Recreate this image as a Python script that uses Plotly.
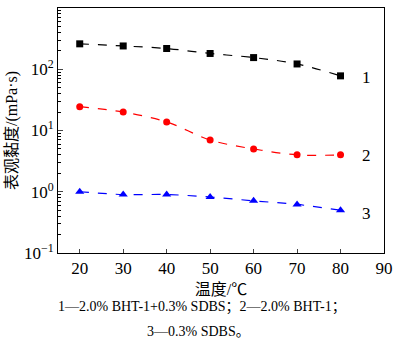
import plotly.graph_objects as go

temps = [20, 30, 40, 50, 60, 70, 80]
visc_1 = [260, 240, 218, 181, 155, 122, 78]
visc_2 = [24.5, 20, 13.8, 7.0, 5.0, 4.0, 4.0]
visc_3 = [1.0, 0.9, 0.9, 0.82, 0.71, 0.62, 0.5]
series_labels = ["1", "2", "3"]
ytick_vals = [0.1, 1, 10, 100, 1000]
ytick_text = ["10<sup>−1</sup>", "10<sup>0</sup>", "10<sup>1</sup>", "10<sup>2</sup>", "10<sup>3</sup>"]
xtick_vals = [20, 30, 40, 50, 60, 70, 80, 90]

FONT = "'Liberation Serif', 'Noto Sans CJK SC', serif"

fig = go.Figure()
series = [
    (visc_1, "black", "square", 7),
    (visc_2, "red", "circle", 7),
    (visc_3, "blue", "triangle-up", 8),
]
for vals, col, sym, sz in series:
    fig.add_trace(go.Scatter(
        x=temps, y=vals, mode="lines+markers",
        line=dict(color=col, dash="dash", width=1.2, shape="spline"),
        marker=dict(color=col, symbol=sym, size=sz),
        showlegend=False,
    ))

minor_vals = []
for e in [0.1, 1, 10, 100]:
    for k in range(2, 10):
        minor_vals.append(e * k)

fig.update_xaxes(
    range=[15, 90], tickvals=xtick_vals, ticks="inside", ticklen=4,
    showline=True, linecolor="black", linewidth=1, mirror=True,
    showgrid=False, zeroline=False,
    tickfont=dict(family=FONT, size=17, color="black"),
    title=dict(text="温度/℃", font=dict(family=FONT, size=16, color="black"), standoff=6),
)
fig.update_yaxes(
    type="log", range=[-1, 3], tickvals=ytick_vals, ticktext=ytick_text,
    ticks="inside", ticklen=5,
    minor=dict(tickvals=minor_vals, ticks="inside", ticklen=3, tickcolor="black"),
    showline=True, linecolor="black", linewidth=1, mirror=True,
    showgrid=False, zeroline=False,
    tickfont=dict(family=FONT, size=17, color="black"),
    title=dict(text="表观黏度/(mPa·s)", font=dict(family=FONT, size=16, color="black"), standoff=2),
)

label_pos = [(86, 1.86), (86, 0.593), (86, -0.35)]
for lab, (lx, ly) in zip(series_labels, label_pos):
    fig.add_annotation(x=lx, y=ly, xref="x", yref="y", text=lab, showarrow=False,
                       font=dict(family=FONT, size=17, color="black"))

# plot area spans y from 7 to 253 px (246 px) and x from 58 to 391 px (333 px)
fig.add_annotation(x=(205 - 58) / 333, y=(253 - 307) / 246, xref="paper", yref="paper",
                   xanchor="center", yanchor="middle",
                   text="1—2.0% BHT-1+0.3% SDBS；2—2.0% BHT-1；",
                   showarrow=False, font=dict(family=FONT, size=14, color="black"))
fig.add_annotation(x=(202 - 58) / 333, y=(253 - 332) / 246, xref="paper", yref="paper",
                   xanchor="center", yanchor="middle",
                   text="3—0.3% SDBS。",
                   showarrow=False, font=dict(family=FONT, size=14, color="black"))

fig.update_layout(
    width=400, height=342,
    margin=dict(l=58, r=9, t=7, b=89),
    paper_bgcolor="white", plot_bgcolor="white",
    font=dict(family=FONT, color="black"),
)
fig.write_html("out.html")
